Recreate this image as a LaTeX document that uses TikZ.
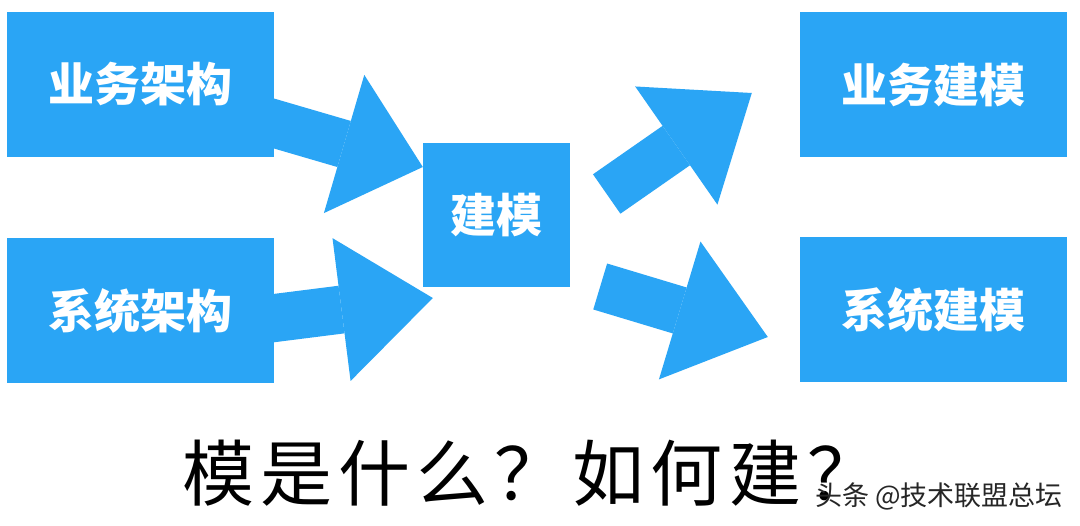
\documentclass[tikz,border=0pt]{standalone}
\usepackage{fontspec}
\newfontfamily\cjk{Noto Sans CJK SC}
\usetikzlibrary{arrows.meta,backgrounds}
\definecolor{boxblue}{RGB}{42,165,245}

\begin{document}
\begin{tikzpicture}
  [ x=1pt, y=-1pt,
    box1/.style={rectangle, fill=boxblue, minimum width=267pt, minimum height=145pt, inner sep=0pt, text=white, font=\cjk\bfseries\fontsize{46}{50}\selectfont},
    box2/.style={rectangle, fill=boxblue, minimum width=147pt, minimum height=144pt, inner sep=0pt, text=white, font=\cjk\bfseries\fontsize{46}{50}\selectfont},
    arrow1/.style={-{Triangle[length=#1, width=144pt, line width=0pt]}, line width=48pt, boxblue},
    arrow1/.default=92pt,
    title/.style={anchor=base west, inner sep=0pt, font=\cjk\addfontfeature{LetterSpace=8.5}\fontsize{72}{80}\selectfont},
    wmtext/.style={anchor=base, inner sep=0pt, text=black!85, font=\cjk\fontsize{27}{30}\selectfont}
  ]

  \node[box1] (bizarch) at (140.5,84.5) {业务架构};
  \node[box1] (sysarch) at (140.5,310.5) {系统架构};
  \node[box2] (model) at (496.5,215) {建模};
  \node[box1] (bizmod) at (933.5,85) {业务建模};
  \node[box1] (sysmod) at (933.5,310) {系统建模};

  \node[title] (question) at (182,501) {模是什么？如何建？};
  \node[wmtext] (wm) at (939,506) {头条 @技术联盟总坛};

  \begin{scope}[on background layer]
    \fill[white] (0,0) rectangle (1080,526);
    \draw[arrow1=82pt] (bizarch.center) -- ([yshift=48pt]model.west);
    \draw[arrow1] ([yshift=-24.5pt]sysarch.center) -- ([xshift=10pt,yshift=-83pt]model.west);
    \coordinate (a3) at ([xshift=36.5pt,yshift=21pt]model.east);
    \draw[arrow1] (a3) -- ([xshift=-48pt,yshift=-8pt]bizmod.west);
    \coordinate (a4) at ([xshift=30pt,yshift=-71.5pt]model.east);
    \draw[arrow1] (a4) -- ([xshift=-32pt,yshift=-27pt]sysmod.west);
  \end{scope}
\end{tikzpicture}
\end{document}
